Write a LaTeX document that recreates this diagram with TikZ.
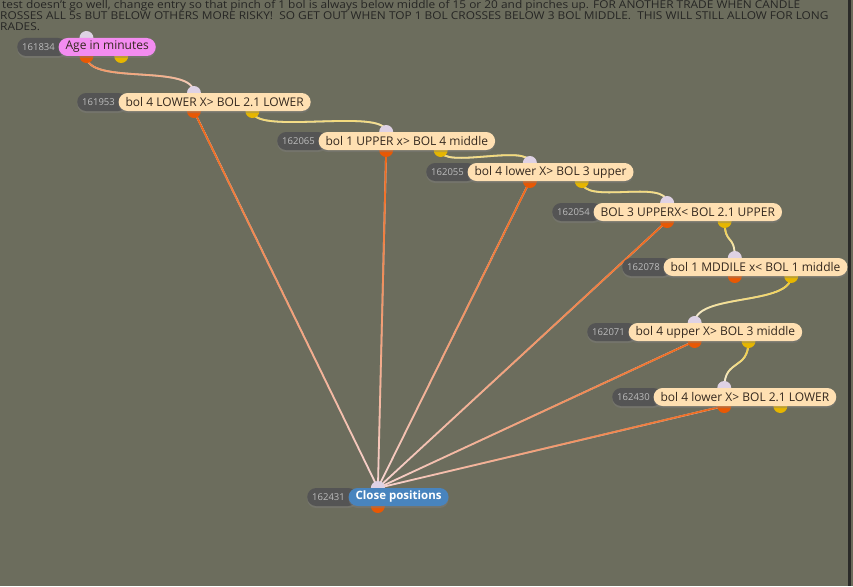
\documentclass[tikz,border=0pt]{standalone}
\usepackage{fontspec}
\setmainfont{Open Sans}
\usetikzlibrary{calc,fadings,shadows}

\definecolor{canvas}{RGB}{108,109,93}
\definecolor{sidebar}{RGB}{42,42,40}
\definecolor{notetext}{RGB}{38,38,36}
\definecolor{idgray}{RGB}{84,84,84}
\definecolor{idtext}{RGB}{188,188,188}
\definecolor{peach}{RGB}{255,224,178}
\definecolor{agepink}{RGB}{243,140,240}
\definecolor{closeblue}{RGB}{72,132,190}
\definecolor{boltext}{RGB}{52,40,30}
\definecolor{portin}{RGB}{222,210,228}
\definecolor{portorange}{RGB}{232,88,4}
\definecolor{portyellow}{RGB}{230,182,0}
\definecolor{linkorange}{RGB}{240,100,18}
\definecolor{linkyellow}{RGB}{240,196,20}
\definecolor{linkpale}{RGB}{247,214,212}

\tikzfading[name=linkfade, top color=transparent!0, middle color=transparent!25, bottom color=transparent!100]

\pgfdeclarelayer{back}
\pgfdeclarelayer{links}
\pgfdeclarelayer{ports}
\pgfsetlayers{back,links,ports,main}

\tikzset{
  note/.style={anchor=base west, inner sep=0pt, text=notetext,
    font=\fontsize{10.8}{10.8}\selectfont, transform shape, xscale=1.1},
  idpill/.style={anchor=west, fill=idgray, text=idtext, rounded corners=9pt,
    minimum height=18pt, inner ysep=0pt, inner xsep=5pt, text width=40pt,
    align=left, font=\fontsize{9.5}{9.5}\selectfont,
    drop shadow={shadow xshift=0pt, shadow yshift=-2pt, opacity=0.4}},
  bolbox/.style={anchor=west, fill=peach, text=boltext, rounded corners=9pt,
    minimum height=18pt, inner ysep=0pt, inner xsep=7pt,
    font=\fontsize{12}{12}\selectfont,
    drop shadow={shadow xshift=0pt, shadow yshift=-2pt, opacity=0.4}},
  agebox/.style={bolbox, fill=agepink, text=boltext},
  closebox/.style={bolbox, fill=closeblue, text=white, font=\fontsize{11.5}{11.5}\selectfont\bfseries},
  inport/.style={circle, fill=portin, inner sep=0pt, minimum size=14pt},
  outorange/.style={circle, fill=portorange, inner sep=0pt, minimum size=14pt},
  outyellow/.style={circle, fill=portyellow, inner sep=0pt, minimum size=14pt},
  closelink/.style={draw=linkpale, line width=1.8pt,
    postaction={draw=linkorange, line width=1.8pt, path fading=linkfade}},
  chainlink/.style={draw=white!80!portin, line width=1.8pt,
    postaction={draw=linkyellow, line width=1.8pt, path fading=linkfade}},
  agelink/.style={draw=white!80!portin, line width=1.8pt,
    postaction={draw=linkorange, line width=1.8pt, path fading=linkfade}}
}

\begin{document}
\begin{tikzpicture}[x=1pt,y=-1pt]
\useasboundingbox (0,0) rectangle (853,586);
\begin{pgfonlayer}{back}
\fill[canvas] (0,0) rectangle (853,586);
\fill[sidebar] (848,0) rectangle (851,586);
\end{pgfonlayer}

% note at the top
\node[note] (note1) at (2,9) {test doesn't go well, change entry so that pinch of 1 bol is always below middle of 15 or 20 and pinches up. FOR ANOTHER TRADE WHEN CANDLE};
\node[note] (note2) at (0,20) {ROSSES ALL 5s BUT BELOW OTHERS MORE RISKY!\ \ SO GET OUT WHEN TOP 1 BOL CROSSES BELOW 3 BOL MIDDLE.\ \ THIS WILL STILL ALLOW FOR LONG};
\node[note] (note3) at (0,31) {RADES.};

% blocks
\node[idpill] (id1) at (17,47) {161834};
\node[agebox] (n1) at ([xshift=-9pt]id1.east) {Age in minutes};
\node[idpill] (id2) at (77,102) {161953};
\node[bolbox] (n2) at ([xshift=-9pt]id2.east) {bol 4 LOWER X> BOL 2.1 LOWER};
\node[idpill] (id3) at (277,141) {162065};
\node[bolbox] (n3) at ([xshift=-9pt]id3.east) {bol 1 UPPER x> BOL 4 middle};
\node[idpill] (id4) at (426,172) {162055};
\node[bolbox] (n4) at ([xshift=-9pt]id4.east) {bol 4 lower X> BOL 3 upper};
\node[idpill] (id5) at (552,212) {162054};
\node[bolbox] (n5) at ([xshift=-9pt]id5.east) {BOL 3 UPPERX< BOL 2.1 UPPER};
\node[idpill] (id6) at (622,267) {162078};
\node[bolbox] (n6) at ([xshift=-9pt]id6.east) {bol 1 MDDILE x< BOL 1 middle};
\node[idpill] (id7) at (587,332) {162071};
\node[bolbox] (n7) at ([xshift=-9pt]id7.east) {bol 4 upper X> BOL 3 middle};
\node[idpill] (id8) at (612,397) {162430};
\node[bolbox] (n8) at ([xshift=-9pt]id8.east) {bol 4 lower X> BOL 2.1 LOWER};
\node[idpill] (id9) at (307,497) {162431};
\node[closebox] (n9) at ([xshift=-9pt]id9.east) {Close positions};

% ports
\begin{pgfonlayer}{ports}
\node[inport] (t1) at ($(id1.west)!0.5!(n1.east)+(0,-9)$) {};
\node[outorange] (o1) at ($(id1.west)!0.5!(n1.east)+(0,9)$) {};
\node[outyellow] (y1) at ($(id1.west)!0.75!(n1.east)+(0,9)$) {};
\node[inport] (t2) at ($(id2.west)!0.5!(n2.east)+(0,-9)$) {};
\node[outorange] (o2) at ($(id2.west)!0.5!(n2.east)+(0,9)$) {};
\node[outyellow] (y2) at ($(id2.west)!0.75!(n2.east)+(0,9)$) {};
\node[inport] (t3) at ($(id3.west)!0.5!(n3.east)+(0,-9)$) {};
\node[outorange] (o3) at ($(id3.west)!0.5!(n3.east)+(0,9)$) {};
\node[outyellow] (y3) at ($(id3.west)!0.75!(n3.east)+(0,9)$) {};
\node[inport] (t4) at ($(id4.west)!0.5!(n4.east)+(0,-9)$) {};
\node[outorange] (o4) at ($(id4.west)!0.5!(n4.east)+(0,9)$) {};
\node[outyellow] (y4) at ($(id4.west)!0.75!(n4.east)+(0,9)$) {};
\node[inport] (t5) at ($(id5.west)!0.5!(n5.east)+(0,-9)$) {};
\node[outorange] (o5) at ($(id5.west)!0.5!(n5.east)+(0,9)$) {};
\node[outyellow] (y5) at ($(id5.west)!0.75!(n5.east)+(0,9)$) {};
\node[inport] (t6) at ($(id6.west)!0.5!(n6.east)+(0,-9)$) {};
\node[outorange] (o6) at ($(id6.west)!0.5!(n6.east)+(0,9)$) {};
\node[outyellow] (y6) at ($(id6.west)!0.75!(n6.east)+(0,9)$) {};
\node[inport] (t7) at ($(id7.west)!0.5!(n7.east)+(0,-9)$) {};
\node[outorange] (o7) at ($(id7.west)!0.5!(n7.east)+(0,9)$) {};
\node[outyellow] (y7) at ($(id7.west)!0.75!(n7.east)+(0,9)$) {};
\node[inport] (t8) at ($(id8.west)!0.5!(n8.east)+(0,-9)$) {};
\node[outorange] (o8) at ($(id8.west)!0.5!(n8.east)+(0,9)$) {};
\node[outyellow] (y8) at ($(id8.west)!0.75!(n8.east)+(0,9)$) {};
\node[inport] (t9) at ($(id9.west)!0.5!(n9.east)+(0,-9)$) {};
\node[outorange] (o9) at ($(id9.west)!0.5!(n9.east)+(0,9)$) {};
\end{pgfonlayer}

% links
\begin{pgfonlayer}{links}
\draw[agelink] (o1.center) .. controls +(0,30) and +(0,-30) .. (t2.center);
\draw[chainlink] (y2.center) .. controls +(0,25) and +(0,-25) .. (t3.center);
\draw[chainlink] (y3.center) .. controls +(0,20) and +(0,-20) .. (t4.center);
\draw[chainlink] (y4.center) .. controls +(0,25) and +(0,-25) .. (t5.center);
\draw[chainlink] (y5.center) .. controls +(0,25) and +(0,-25) .. (t6.center);
\draw[chainlink] (y6.center) .. controls +(0,30) and +(0,-30) .. (t7.center);
\draw[chainlink] (y7.center) .. controls +(0,30) and +(0,-30) .. (t8.center);
\draw[closelink] (o2.center) -- (t9.center);
\draw[closelink] (o3.center) -- (t9.center);
\draw[closelink] (o4.center) -- (t9.center);
\draw[closelink] (o5.center) -- (t9.center);
\draw[closelink] (o7.center) -- (t9.center);
\draw[closelink] (o8.center) -- (t9.center);
\end{pgfonlayer}
\end{tikzpicture}
\end{document}
